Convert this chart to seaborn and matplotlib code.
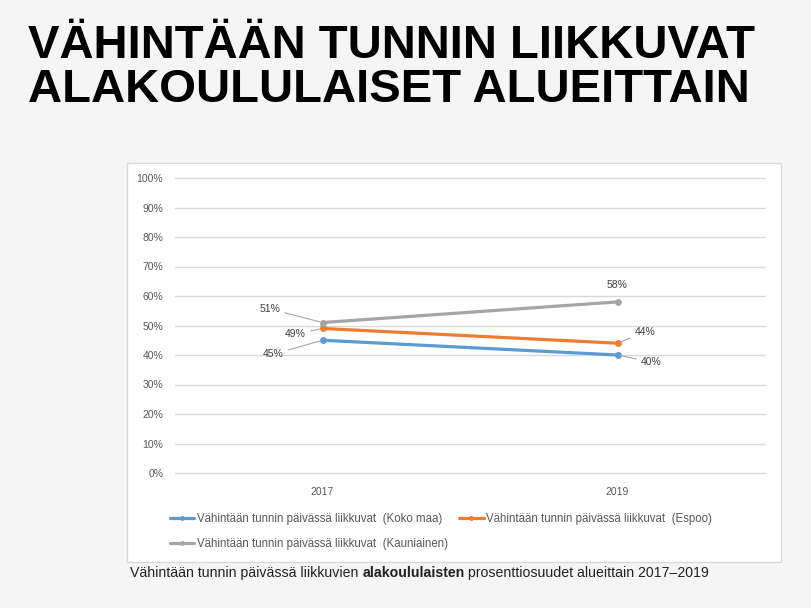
import matplotlib
matplotlib.use("Agg")
import matplotlib.pyplot as plt
from matplotlib.patches import Rectangle
from matplotlib.ticker import FuncFormatter
from matplotlib.offsetbox import TextArea, HPacker, AnchoredOffsetbox
import seaborn as sns
import pandas as pd

years = ["2017", "2019"]
series_names = [
    "Vähintään tunnin päivässä liikkuvat  (Koko maa)",
    "Vähintään tunnin päivässä liikkuvat  (Espoo)",
    "Vähintään tunnin päivässä liikkuvat  (Kauniainen)",
]
koko_maa = [45, 40]
espoo = [49, 44]
kauniainen = [51, 58]
colors = ["#5b9bd5", "#ed7d31", "#a5a5a5"]

rows = []
for name, vals in zip(series_names, [koko_maa, espoo, kauniainen]):
    for y, v in zip(years, vals):
        rows.append({"Vuosi": y, "Osuus": v, "Sarja": name})
df = pd.DataFrame(rows)

sns.set_theme(style="white")
plt.rcParams["font.family"] = ["Liberation Sans", "DejaVu Sans"]

fig = plt.figure(figsize=(8.11, 6.08), dpi=100)
fig.patch.set_facecolor("#f5f5f5")

# chart box
fig.patches.append(Rectangle((127 / 811, 1 - 562 / 608), (781 - 127) / 811, (562 - 163) / 608,
                             transform=fig.transFigure, facecolor="white",
                             edgecolor="#d9d9d9", linewidth=1.0, zorder=-5))

ax = fig.add_axes([175 / 811, 1 - 473 / 608, 590 / 811, 295 / 608])
ax.set_facecolor("none")
ax.set_zorder(2)

sns.lineplot(data=df, x="Vuosi", y="Osuus", hue="Sarja", hue_order=series_names,
             palette=colors, marker="o", markersize=5, markeredgewidth=0,
             linewidth=2.3, ax=ax, sort=False)

ax.set_xlim(-0.5, 1.5)
ax.set_ylim(0, 100)
ax.set_yticks(range(0, 101, 10))
ax.yaxis.set_major_formatter(FuncFormatter(lambda v, p: f"{int(v)}%"))
ax.grid(axis="y", color="#d9d9d9", linewidth=1.0)
for gl in ax.get_ygridlines():
    gl.set_clip_on(False)
ax.set_axisbelow(True)
for s in ax.spines.values():
    s.set_visible(False)
ax.tick_params(axis="both", length=0, labelsize=7.5, colors="#595959")
ax.tick_params(axis="y", pad=8.5)
ax.tick_params(axis="x", pad=10)
ax.set_xlabel("")
ax.set_ylabel("")

# data labels with leader lines
lab_col = "#404040"
ann = [
    (0, kauniainen[0], -0.178, 55.6),
    (0, espoo[0], -0.092, 47.1),
    (0, koko_maa[0], -0.166, 40.3),
    (1, espoo[1], 1.092, 47.8),
    (1, koko_maa[1], 1.115, 37.6),
]
for xi, yv, tx, ty in ann:
    ax.annotate(f"{yv}%", xy=(xi, yv), xytext=(tx, ty), textcoords="data",
                ha="center", va="center", fontsize=7.5, color=lab_col,
                arrowprops=dict(arrowstyle="-", color="#a6a6a6", lw=0.8,
                                shrinkA=1, shrinkB=2))
ax.text(1, kauniainen[1] + 5.7, f"{kauniainen[1]}%", ha="center", va="center",
        fontsize=7.5, color=lab_col)

# legend (row-wise order)
h, l = ax.get_legend_handles_labels()
order = [0, 2, 1]
ax.legend([h[i] for i in order], [l[i] for i in order], loc="upper left",
          bbox_to_anchor=(-0.008, -0.137), ncol=2, frameon=False,
          fontsize=8.3, labelcolor="#595959", handlelength=2.1, handletextpad=0.2,
          columnspacing=1.0, borderaxespad=0, borderpad=0, labelspacing=1.1,
          markerscale=0.7)

# title
fig.text(28 / 811, 1 - 24 / 608, "VÄHINTÄÄN TUNNIN LIIKKUVAT\nALAKOULULAISET ALUEITTAIN",
         ha="left", va="top", fontsize=34, fontweight="bold", color="black",
         linespacing=0.99)

# caption made of plain and bold parts
cap_props = dict(fontsize=10.2, color="#222222")
parts = [
    TextArea("Vähintään tunnin päivässä liikkuvien ", textprops=cap_props),
    TextArea("alakoululaisten", textprops=dict(cap_props, fontweight="bold")),
    TextArea(" prosenttiosuudet alueittain 2017–2019", textprops=cap_props),
]
cap = HPacker(children=parts, align="baseline", pad=0, sep=0)
anch = AnchoredOffsetbox(loc="center left", child=cap, pad=0, borderpad=0, frameon=False,
                         bbox_to_anchor=(130 / 811, 1 - 573 / 608),
                         bbox_transform=fig.transFigure)
fig.add_artist(anch)

fig.savefig("out.png", dpi=100, facecolor=fig.get_facecolor())
